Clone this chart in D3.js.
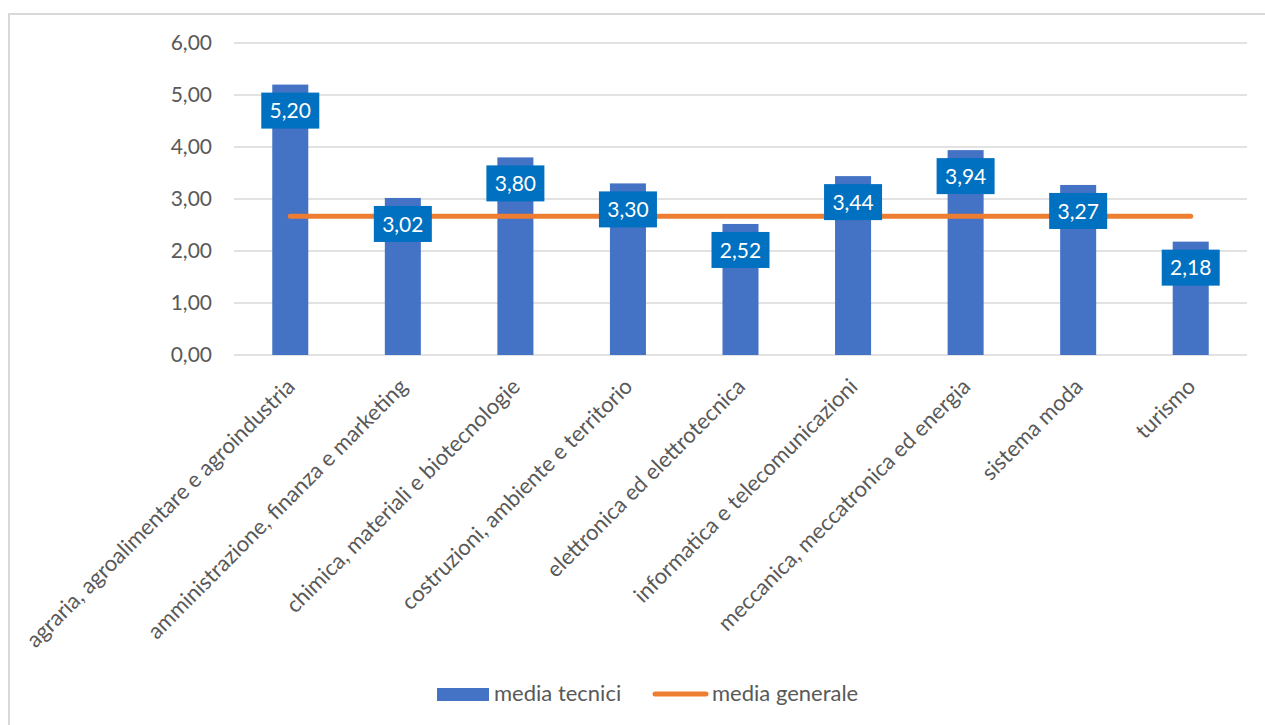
<!DOCTYPE html>
<html>
<head>
<meta charset="utf-8">
<script src="https://cdn.jsdelivr.net/npm/d3@7"></script>
<style>
  html, body { margin: 0; padding: 0; background: #fff; }
  svg { display: block; font-family: Lato, "Open Sans", sans-serif; }
</style>
</head>
<body>
<svg id="chart" width="1265" height="725"></svg>
<script>
// Indirizzi tecnici e media dei punteggi
const categories = [
  "agraria, agroalimentare e agroindustria",
  "amministrazione, finanza e marketing",
  "chimica, materiali e biotecnologie",
  "costruzioni, ambiente e territorio",
  "elettronica ed elettrotecnica",
  "informatica e telecomunicazioni",
  "meccanica, meccatronica ed energia",
  "sistema moda",
  "turismo"
];
const mediaTecnici = [5.20, 3.02, 3.80, 3.30, 2.52, 3.44, 3.94, 3.27, 2.18];
const mediaGenerale = [2.67, 2.67, 2.67, 2.67, 2.67, 2.67, 2.67, 2.67, 2.67];
const yTicks = [0, 1, 2, 3, 4, 5, 6];
const legendLabels = ["media tecnici", "media generale"];

const fmt = v => d3.format(".2f")(v).replace(".", ",");

const svg = d3.select("#chart");
const W = 1265, H = 725;
const plot = { left: 234, right: 1247, top: 43, bottom: 355 };

// chart frame
svg.append("path")
  .attr("d", `M9,${H + 5} L9,14 L${W + 5},14`)
  .attr("fill", "none")
  .attr("stroke", "#d9d9d9")
  .attr("stroke-width", 2);

const x = d3.scaleBand().domain(categories).range([plot.left, plot.right]).paddingInner(0).paddingOuter(0);
const y = d3.scaleLinear().domain([0, 6]).range([plot.bottom, plot.top]);

// gridlines
svg.append("g").selectAll("line").data(yTicks).join("line")
  .attr("x1", plot.left).attr("x2", plot.right)
  .attr("y1", d => y(d)).attr("y2", d => y(d))
  .attr("stroke", "#d9d9d9").attr("stroke-width", 1.5);

// y axis labels
const yAxis = d3.axisLeft(y).tickValues(yTicks).tickFormat(fmt).tickSize(0).tickPadding(22);
const gy = svg.append("g").attr("transform", `translate(${plot.left},0)`).call(yAxis);
gy.select(".domain").remove();
gy.selectAll("text")
  .attr("fill", "#595959")
  .style("font-size", "21px")
  .style("font-family", "Lato, sans-serif");

// bars
const barW = x.bandwidth() * 0.32;
svg.append("g").selectAll("rect").data(mediaTecnici).join("rect")
  .attr("x", (d, i) => x(categories[i]) + x.bandwidth() / 2 - barW / 2)
  .attr("y", d => y(d))
  .attr("width", barW)
  .attr("height", d => y(0) - y(d))
  .attr("fill", "#4472C4");

// average line
const line = d3.line()
  .x((d, i) => x(categories[i]) + x.bandwidth() / 2)
  .y(d => y(d));
svg.append("path")
  .datum(mediaGenerale)
  .attr("d", line)
  .attr("fill", "none")
  .attr("stroke", "#ED7D31")
  .attr("stroke-width", 5)
  .attr("stroke-linecap", "round");

// value labels
const lbl = svg.append("g").selectAll("g").data(mediaTecnici).join("g")
  .attr("transform", (d, i) => `translate(${x(categories[i]) + x.bandwidth() / 2},${y(d) + 26})`);
lbl.append("rect")
  .attr("x", -29).attr("y", -18).attr("width", 58).attr("height", 36)
  .attr("fill", "#0070C0");
lbl.append("text")
  .attr("text-anchor", "middle")
  .attr("dy", "0.36em")
  .attr("fill", "#fff")
  .style("font-size", "21px")
  .text(d => fmt(d));

// category labels
svg.append("g").selectAll("text").data(categories).join("text")
  .attr("transform", d => `translate(${x(d) + x.bandwidth() / 2 + 6},${plot.bottom + 33}) rotate(-45)`)
  .attr("text-anchor", "end")
  .attr("fill", "#595959")
  .style("font-size", "22px")
  .text(d => d);

// legend
const lg = svg.append("g");
lg.append("rect").attr("x", 437).attr("y", 688).attr("width", 52).attr("height", 13).attr("fill", "#4472C4");
lg.append("text").attr("x", 494).attr("y", 701).attr("fill", "#595959").style("font-size", "22px").text(legendLabels[0]);
lg.append("line").attr("x1", 655).attr("x2", 706).attr("y1", 694).attr("y2", 694)
  .attr("stroke", "#ED7D31").attr("stroke-width", 5).attr("stroke-linecap", "round");
lg.append("text").attr("x", 712).attr("y", 701).attr("fill", "#595959").style("font-size", "22px").text(legendLabels[1]);
</script>
</body>
</html>
